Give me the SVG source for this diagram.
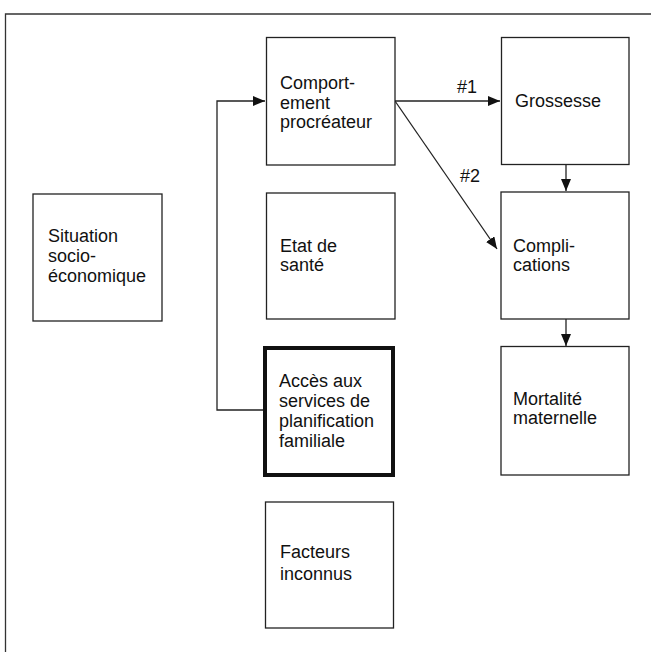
<svg xmlns="http://www.w3.org/2000/svg" width="651" height="652" viewBox="0 0 651 652">
<defs>
<style>
.box{fill:#fff;stroke:#222;stroke-width:1.3}
.thick{fill:#fff;stroke:#111;stroke-width:4}
.t{font-family:"Liberation Sans",Arial,sans-serif;font-size:18px;fill:#111}
.c{fill:none;stroke:#222;stroke-width:1.3}
</style>
<marker id="ah" viewBox="0 0 12 10" refX="12" refY="5" markerWidth="12" markerHeight="10" markerUnits="userSpaceOnUse" orient="auto">
<path d="M0,0 L12,5 L0,10 Z" fill="#111"/>
</marker>
</defs>
<rect width="651" height="652" fill="#fff"/>
<path d="M5.5,652 V14 H651" fill="none" stroke="#333" stroke-width="1.3"/>
<g id="connectors">
<path class="c" d="M263,410 H217 V101 H265" marker-end="url(#ah)"/>
<path class="c" d="M395,101 H500" marker-end="url(#ah)"/>
<path class="c" d="M395,101 L497,249" marker-end="url(#ah)"/>
<path class="c" d="M566,165 V191" marker-end="url(#ah)"/>
<path class="c" d="M566,319 V346" marker-end="url(#ah)"/>
<text class="t" x="457" y="93">#1</text>
<text class="t" x="460" y="182">#2</text>
</g>
<g id="situation">
<rect class="box" x="33" y="194" width="129" height="127"/>
<text class="t" x="48" y="242">Situation</text>
<text class="t" x="48" y="262">socio-</text>
<text class="t" x="48" y="282">économique</text>
</g>
<g id="comportement">
<rect class="box" x="266.5" y="37.5" width="128.5" height="127.5"/>
<text class="t" x="280" y="89">Comport-</text>
<text class="t" x="280" y="108.5">ement</text>
<text class="t" x="280" y="128">procréateur</text>
</g>
<g id="etat">
<rect class="box" x="266.5" y="193" width="128.5" height="126"/>
<text class="t" x="280" y="252">Etat de</text>
<text class="t" x="280" y="271">santé</text>
</g>
<g id="acces">
<rect class="thick" x="265" y="348" width="128" height="127"/>
<text class="t" x="279" y="387">Accès aux</text>
<text class="t" x="279" y="407">services de</text>
<text class="t" x="279" y="427">planification</text>
<text class="t" x="279" y="447">familiale</text>
</g>
<g id="facteurs">
<rect class="box" x="265.5" y="502" width="128" height="126"/>
<text class="t" x="280" y="558">Facteurs</text>
<text class="t" x="280" y="580">inconnus</text>
</g>
<g id="grossesse">
<rect class="box" x="501.5" y="37.5" width="127.5" height="127"/>
<text class="t" x="515" y="107">Grossesse</text>
</g>
<g id="complications">
<rect class="box" x="501" y="192" width="128" height="127"/>
<text class="t" x="513" y="252">Compli-</text>
<text class="t" x="513" y="271">cations</text>
</g>
<g id="mortalite">
<rect class="box" x="501" y="346.5" width="128" height="128.5"/>
<text class="t" x="513" y="405">Mortalité</text>
<text class="t" x="513" y="424">maternelle</text>
</g>
</svg>
